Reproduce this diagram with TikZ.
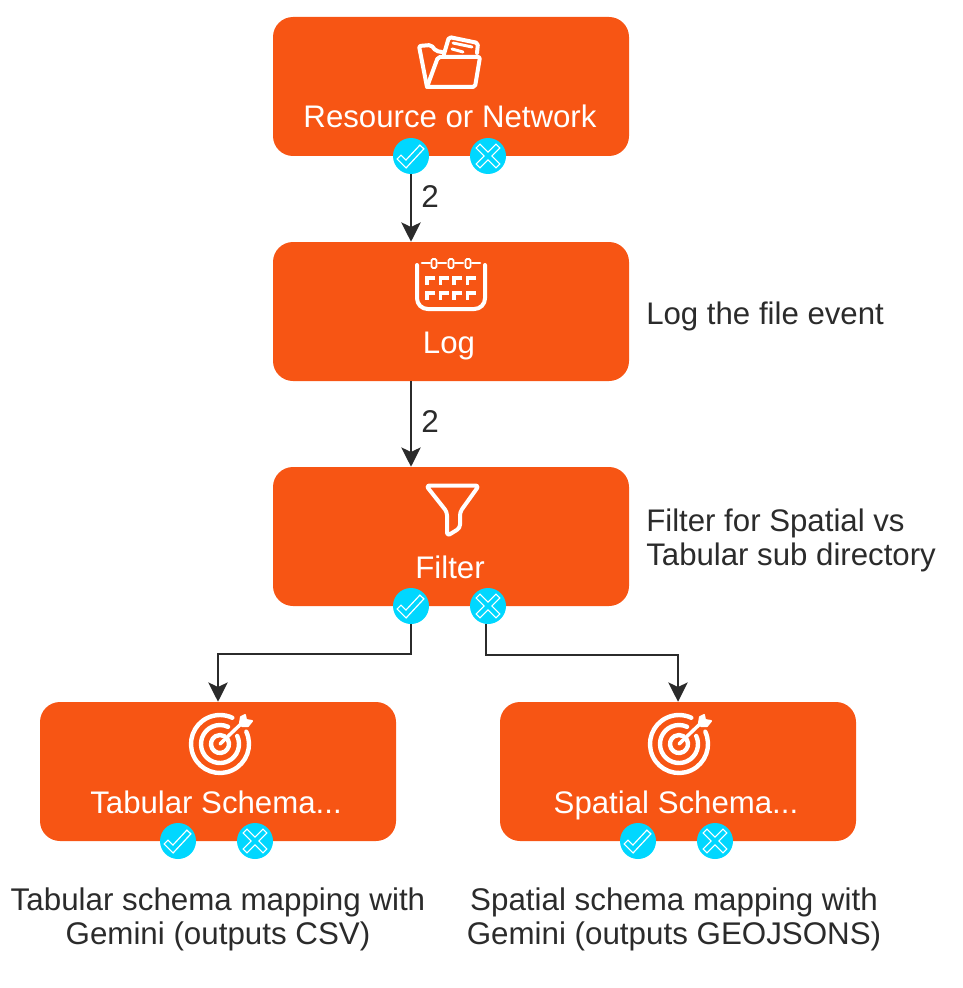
\documentclass[tikz,border=0pt]{standalone}
\usepackage{fontspec}
\setmainfont{Liberation Sans}
\usetikzlibrary{arrows.meta}
\definecolor{boxorange}{HTML}{F75514}
\definecolor{badgecyan}{HTML}{00D7FF}
\definecolor{inkdark}{HTML}{2B2B2B}
\tikzset{
  flowbox/.style={draw=none,fill=boxorange,rounded corners=15pt,minimum width=267pt,minimum height=104.25pt,inner sep=0pt},
  boxtext/.style={text=white,font=\fontsize{23.4pt}{25pt}\selectfont,inner sep=0pt,anchor=base},
  sidetext/.style={text=inkdark,font=\fontsize{23.4pt}{25pt}\selectfont,inner sep=0pt,align=left,anchor=base west},
  notetext/.style={text=inkdark,font=\fontsize{23.5pt}{25pt}\selectfont,inner sep=0pt,align=center,anchor=base},
  badge/.style={circle,fill=badgecyan,draw=none,minimum size=27pt,inner sep=0pt},
  flowline/.style={draw=inkdark,line width=1.5pt,-{Stealth[length=14.5pt,width=14.5pt,inset=3.5pt]}},
  iconline/.style={draw=white,line width=3pt,line join=round,line cap=round,fill=none},
  hollowout/.style={draw=white,line width=5pt,line cap=rect,line join=miter},
  hollowin/.style={draw=badgecyan,line width=3pt,line cap=rect,line join=miter},
  checkicon/.pic={
    \draw[hollowout] (-10,3) -- (-5,8) -- (9,-7);
    \draw[hollowin] (-10,3) -- (-5,8) -- (9,-7);},
  crossicon/.pic={
    \draw[hollowout] (-8,-8) -- (8,8) (-8,8) -- (8,-8);
    \draw[hollowin] (-8,-8) -- (8,8) (-8,8) -- (8,-8);},
  targeticon/.pic={
    \begin{scope}[y=0.75pt]
      \draw[iconline,line width=3.3pt] (25:29) arc[start angle=25,end angle=-295,radius=21.75pt];
      \draw[iconline,line width=3.3pt] (25:19) arc[start angle=25,end angle=-295,radius=14.25pt];
      \draw[iconline,line width=3.3pt] (30:9) arc[start angle=30,end angle=-300,radius=6.75pt];
      \draw[iconline,line width=2.6pt] (0,0) -- (23,22);
      \draw[iconline,fill=white,line width=1.5pt] (20,21) -- (21,27) -- (25,29) -- (26,24) -- (32,23) -- (28,18) -- (22,18) -- cycle;
    \end{scope}
  }
}
\begin{document}
\begin{tikzpicture}[x=0.75pt,y=-0.75pt]
\useasboundingbox (0,0) rectangle (963,988);
\node[flowbox] (res) at (451,86.5) {};
\node[flowbox] (log) at (451,311.5) {};
\node[flowbox] (fil) at (451,536.5) {};
\node[flowbox] (tab) at (218,771.5) {};
\node[flowbox] (spa) at (678,771.5) {};
\node[boxtext] (resT) at (450,128) {Resource or Network};
\node[boxtext] (logT) at (449,353) {Log};
\node[boxtext] (filT) at (450,578) {Filter};
\node[boxtext] (tabT) at (216,813) {Tabular Schema...};
\node[boxtext] (spaT) at (676,813) {Spatial Schema...};
% folder icon
\draw[iconline,rounded corners=1.5pt] (427,87) -- (438,57) -- (480,57) -- (475,87) -- cycle;
\draw[iconline,rounded corners=1.5pt] (427,87) -- (419,46) -- (431,45) -- (436,51) -- (442,52);
\draw[iconline,rounded corners=1.5pt] (444,54) -- (449,37) -- (478,43) -- (477,53);
\draw[iconline,line width=2.2pt] (453,43) -- (472,47) (452,49) -- (463,52);
% calendar icon
\draw[iconline,rounded corners=8pt] (417,265) -- (417,309) -- (485,309) -- (485,265);
\draw[iconline,line width=1.9pt] (422,263) -- (430,263) (438,263) -- (446,263) (455,263) -- (463,263) (472,263) -- (480,263);
\draw[draw=white,line width=1.4pt,rounded corners=1pt] (431.5,259) rectangle (436.5,268) (448.5,259) rectangle (453.5,268) (465.5,259) rectangle (470.5,268);
\foreach \cx in {427,440.5,454,467.5}{
  \foreach \cy in {278,293}{
    \draw[draw=white,line width=2.3pt] (\cx+8,\cy) -- (\cx,\cy) -- (\cx,\cy+7);
  }
}
% funnel icon
\draw[iconline,rounded corners=2.5pt] (426,485.5) -- (479,485.5) -- (460,512) -- (460,528) -- (447,536) -- (447,512) -- cycle;
% target icons
\pic at (220,744) {targeticon};
\pic at (679,744) {targeticon};
% badges
\node[badge] (resY) at (411,156) {};
\node[badge] (resN) at (488,156) {};
\node[badge] (filY) at (411,606) {};
\node[badge] (filN) at (488,606) {};
\node[badge] (tabY) at (178,841) {};
\node[badge] (tabN) at (255,841) {};
\node[badge] (spaY) at (638,841) {};
\node[badge] (spaN) at (715,841) {};
\pic at (resY) {checkicon};
\pic at (resN) {crossicon};
\pic at (filY) {checkicon};
\pic at (filN) {crossicon};
\pic at (tabY) {checkicon};
\pic at (tabN) {crossicon};
\pic at (spaY) {checkicon};
\pic at (spaN) {crossicon};
% connectors
\draw[flowline] (resY.south) -- (resY.south |- log.north);
\draw[flowline] (resY.south |- log.south) -- (resY.south |- fil.north);
\draw[flowline] (filY.south) -- (411,654) -- (218,654) -- (tab.north);
\draw[flowline] (486,624) -- (486,655) -- (678,655) -- (spa.north);
% labels
\node[text=inkdark,font=\fontsize{23.6pt}{25pt}\selectfont,inner sep=0pt,anchor=base] (e1) at (430,207) {2};
\node[text=inkdark,font=\fontsize{23.6pt}{25pt}\selectfont,inner sep=0pt,anchor=base] (e2) at (430,432) {2};
\node[sidetext] (n1) at (646,324) {Log the file event};
\node[sidetext] (n2) at (646,565) {Filter for Spatial vs\\Tabular sub directory};
\node[notetext] (n3) at (218,944) {Tabular schema mapping with\\Gemini (outputs CSV)};
\node[notetext] (n4) at (674,944) {Spatial schema mapping with\\Gemini (outputs GEOJSONS)};
\end{tikzpicture}
\end{document}
